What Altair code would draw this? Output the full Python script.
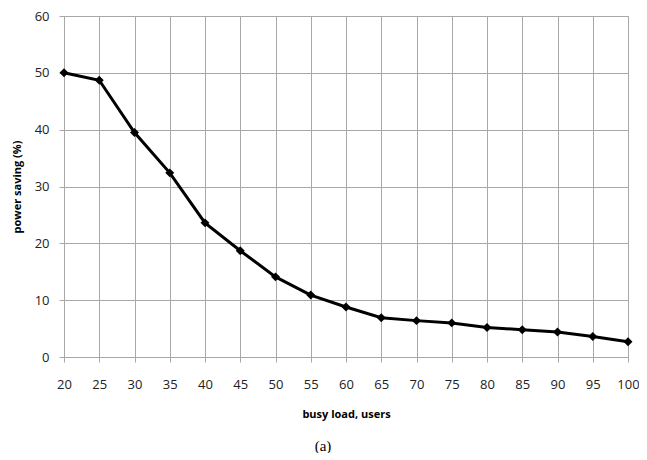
import altair as alt
import pandas as pd

load_users = [20, 25, 30, 35, 40, 45, 50, 55, 60, 65, 70, 75, 80, 85, 90, 95, 100]
power_saving = [50.0, 48.7, 39.5, 32.4, 23.6, 18.7, 14.1, 10.9, 8.8, 6.9, 6.4, 6.0, 5.2, 4.8, 4.4, 3.6, 2.7]
x_ticks = list(range(20, 101, 5))
y_ticks = list(range(0, 61, 10))

df = pd.DataFrame({"load": load_users, "saving": power_saving})

GRID = "#a8a8a8"
FONT = "Open Sans"

x = alt.X("load:Q", scale=alt.Scale(domain=[20, 100], nice=False, zero=False),
          axis=alt.Axis(values=x_ticks, title="busy load, users", grid=True,
                        gridColor=GRID, domainColor=GRID, tickColor=GRID, tickSize=5,
                        labelPadding=16, labelFontSize=13, labelFont=FONT, labelColor="#222",
                        labelFlush=False, labelOverlap=False, labelBound=False,
                        titleFont=FONT, titleFontSize=11, titleFontWeight="bold",
                        titlePadding=17, titleColor="#000"))
y = alt.Y("saving:Q", scale=alt.Scale(domain=[0, 60], nice=False),
          axis=alt.Axis(values=y_ticks, title="power saving (%)", grid=True,
                        gridColor=GRID, domainColor=GRID, tickColor=GRID, tickSize=5,
                        labelPadding=10, labelFontSize=13, labelFont=FONT, labelColor="#222",
                        labelFlush=False, labelOverlap=False,
                        titleFont=FONT, titleFontSize=11, titleFontWeight="bold",
                        titlePadding=12, titleColor="#000"))

line = alt.Chart(df).mark_line(color="black", strokeWidth=3).encode(x=x, y=y)
pts = alt.Chart(df).mark_point(shape="diamond", filled=True, color="black", size=80, opacity=1).encode(x=x, y=y)

chart = (line + pts).properties(
    width=564, height=341,
    title=alt.TitleParams("(a)", orient="bottom", font="Liberation Serif", fontSize=15,
                          fontWeight="normal", color="#000", anchor="middle", frame="group",
                          dx=-23, offset=20),
    autosize=alt.AutoSizeParams(type="none"),
    padding={"left": 56, "top": 8, "right": 11, "bottom": 96},
).configure_view(stroke=GRID, strokeWidth=1)

chart.save("out.html", embed_options={"renderer": "svg", "actions": False})
